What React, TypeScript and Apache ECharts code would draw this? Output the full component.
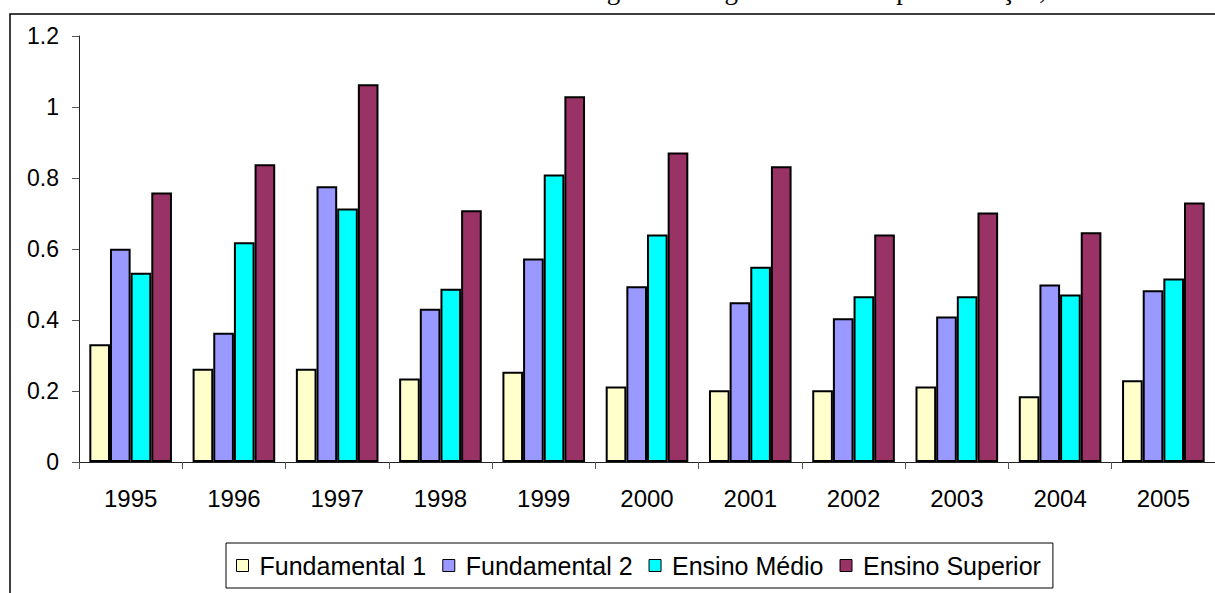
import React, { useEffect, useRef } from "react";
import * as echarts from "echarts";

const years = ["1995", "1996", "1997", "1998", "1999", "2000", "2001", "2002", "2003", "2004", "2005"];
const fundamental1 = [0.332, 0.263, 0.263, 0.235, 0.254, 0.213, 0.202, 0.202, 0.213, 0.185, 0.230];
const fundamental2 = [0.601, 0.364, 0.777, 0.432, 0.573, 0.495, 0.450, 0.405, 0.410, 0.500, 0.484];
const ensinoMedio = [0.533, 0.619, 0.714, 0.488, 0.810, 0.641, 0.550, 0.467, 0.467, 0.472, 0.517];
const ensinoSuperior = [0.759, 0.839, 1.064, 0.709, 1.030, 0.872, 0.833, 0.641, 0.703, 0.647, 0.731];
const seriesNames = ["Fundamental 1", "Fundamental 2", "Ensino Médio", "Ensino Superior"];
const seriesColors = ["#FFFFCC", "#9999FF", "#00FFFF", "#993366"];
const titleText = "Taxas de retorno segundo categoria de ensino por educação, 1995-2005";

export default function App() {
  const ref = useRef<HTMLDivElement>(null);
  useEffect(() => {
    if (!ref.current) return;
    const chart = echarts.init(ref.current, null, { renderer: "svg" });
    const values = [fundamental1, fundamental2, ensinoMedio, ensinoSuperior];
    const sans = "'Liberation Sans', Arial, sans-serif";
    chart.setOption({
      animation: false,
      backgroundColor: "#ffffff",
      graphic: [
        {
          type: "rect",
          shape: { x: 10, y: 14, width: 1400, height: 800 },
          style: { fill: "none", stroke: "#000", lineWidth: 1.5 },
          silent: true,
        },
        {
          type: "text",
          x: 398,
          y: -10,
          style: {
            text: titleText,
            font: "27px 'Liberation Serif', 'Times New Roman', serif",
            fill: "#000",
            verticalAlign: "middle",
          },
          silent: true,
        },
      ],
      grid: { left: 79, top: 36, width: 1143, height: 426, containLabel: false },
      legend: {
        left: 226,
        top: 543,
        orient: "horizontal",
        data: seriesNames,
        icon: "rect",
        itemWidth: 12,
        itemHeight: 12,
        itemGap: 16,
        padding: [10, 12, 10, 10],
        borderColor: "#000",
        borderWidth: 1,
        backgroundColor: "#fff",
        itemStyle: { borderColor: "#000", borderWidth: 1 },
        textStyle: { fontFamily: sans, fontSize: 25, color: "#000", padding: [0, 0, 0, 6] },
      },
      xAxis: {
        type: "category",
        data: years,
        axisLine: { lineStyle: { color: "#222", width: 1 } },
        axisTick: { show: true, length: 7, lineStyle: { color: "#555" } },
        axisLabel: { fontFamily: sans, fontSize: 24, color: "#000", margin: 24 },
        splitLine: { show: false },
      },
      yAxis: {
        type: "value",
        min: 0,
        max: 1.2,
        interval: 0.2,
        axisLine: { show: true, lineStyle: { color: "#222", width: 1 } },
        axisTick: { show: true, length: 7, lineStyle: { color: "#555" } },
        axisLabel: {
          fontFamily: sans,
          fontSize: 23,
          color: "#000",
          margin: 20,
          formatter: (v: number) => String(Math.round(v * 10) / 10),
        },
        splitLine: { show: false },
      },
      series: seriesNames.map((name, i) => ({
        name,
        type: "bar",
        data: values[i],
        barGap: "0%",
        barCategoryGap: "20%",
        itemStyle: { color: seriesColors[i], borderColor: "#000", borderWidth: 2 },
      })),
    });
    return () => chart.dispose();
  }, []);
  return (
    <div
      ref={ref}
      style={{ position: "absolute", left: 0, top: 0, width: 1215, height: 593 }}
    />
  );
}
